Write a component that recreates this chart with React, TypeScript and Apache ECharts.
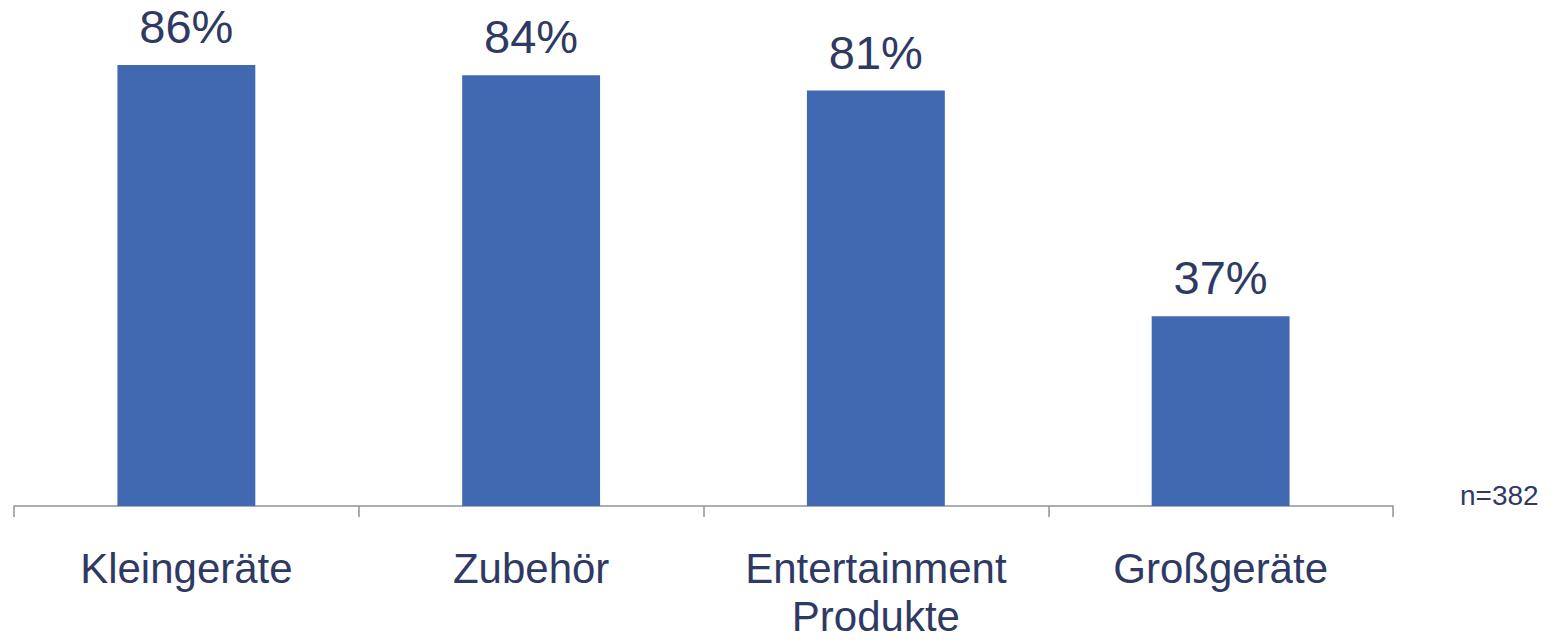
import React, { useEffect, useRef } from "react";
import * as echarts from "echarts";

const categories = ["Kleingeräte", "Zubehör", "Entertainment\nProdukte", "Großgeräte"];
const values = [86, 84, 81, 37];
const sampleNote = "n=382";

export default function App() {
  const ref = useRef<HTMLDivElement>(null);
  useEffect(() => {
    const chart = echarts.init(ref.current!, null, { renderer: "svg" });
    chart.setOption({
      animation: false,
      backgroundColor: "#ffffff",
      textStyle: { fontFamily: "Liberation Sans, Arial, sans-serif" },
      grid: { left: 14, right: 161, top: 0, bottom: 128, containLabel: false },
      xAxis: {
        type: "category",
        data: categories,
        boundaryGap: true,
        axisLine: { show: true, lineStyle: { color: "#8C929E", width: 1.5 } },
        axisTick: { show: true, length: 11, lineStyle: { color: "#8C929E", width: 1.5 } },
        axisLabel: {
          color: "#2F3A64",
          fontSize: 42,
          lineHeight: 48,
          margin: 38,
          fontFamily: "Liberation Sans, Arial, sans-serif",
        },
      },
      yAxis: {
        type: "value",
        min: 0,
        max: 98.65,
        show: false,
        splitLine: { show: false },
      },
      series: [
        {
          type: "bar",
          data: values,
          barWidth: "40%",
          itemStyle: { color: "#4169B2" },
          label: {
            show: true,
            position: "top",
            distance: 15,
            formatter: "{c}%",
            color: "#2F3A64",
            fontSize: 47,
            fontFamily: "Liberation Sans, Arial, sans-serif",
          },
        },
      ],
      graphic: [
        {
          type: "text",
          left: 1460,
          top: 481,
          style: {
            text: sampleNote,
            fill: "#2F3A64",
            fontSize: 28,
            fontFamily: "Liberation Sans, Arial, sans-serif",
          },
        },
      ],
    });
    return () => chart.dispose();
  }, []);
  return (
    <div
      ref={ref}
      style={{ position: "absolute", left: 0, top: 0, width: 1554, height: 640 }}
    />
  );
}
